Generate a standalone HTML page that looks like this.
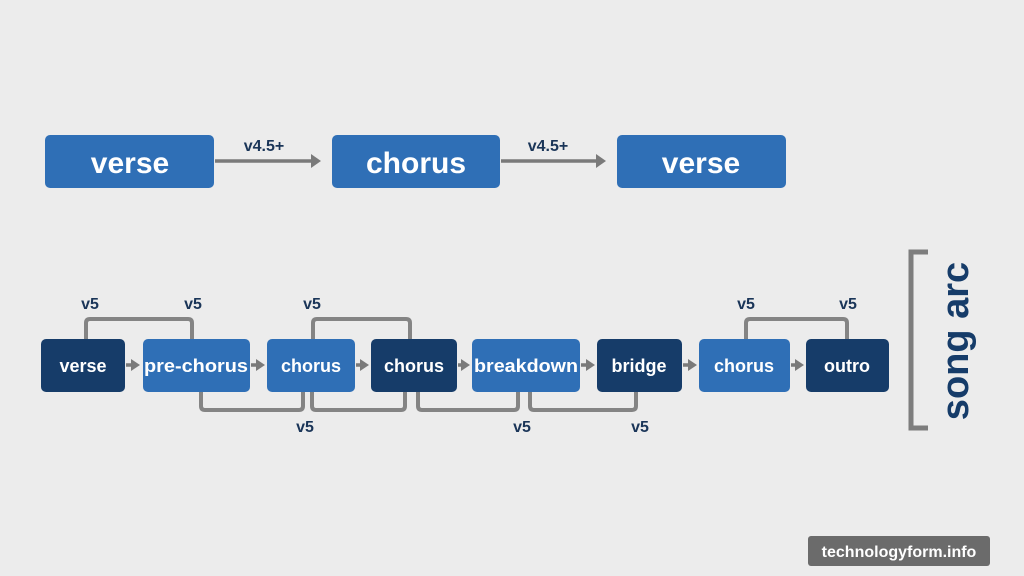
<!DOCTYPE html>
<html><head><style>
body{margin:0;width:1024px;height:576px;background:#ececec;overflow:hidden;font-family:"Liberation Sans",sans-serif;}
</style></head><body>
<svg width="1024" height="576" xmlns="http://www.w3.org/2000/svg" style="position:absolute;left:0;top:0">
<defs><marker id="a" markerWidth="12" markerHeight="14" refX="7" refY="7" orient="auto" markerUnits="userSpaceOnUse"><path d="M0,0 L10,7 L0,14 Z" fill="#7a7a7a"/></marker>
<marker id="b" markerWidth="10" markerHeight="12" refX="6" refY="6" orient="auto" markerUnits="userSpaceOnUse"><path d="M0,0 L9,6 L0,12 Z" fill="#7a7a7a"/></marker></defs>
<g font-weight="bold" text-anchor="middle" font-family="Liberation Sans, sans-serif">
<rect x="45" y="135" width="169" height="53" rx="5" fill="#2f6fb6"/>
<rect x="332" y="135" width="168" height="53" rx="5" fill="#2f6fb6"/>
<rect x="617" y="135" width="169" height="53" rx="5" fill="#2f6fb6"/>
<text x="130" y="173" font-size="30" fill="#fff">verse</text>
<text x="416" y="173" font-size="30" fill="#fff">chorus</text>
<text x="701" y="173" font-size="30" fill="#fff">verse</text>
<line x1="215" y1="161" x2="318" y2="161" stroke="#7a7a7a" stroke-width="3.5" marker-end="url(#a)"/>
<line x1="501" y1="161" x2="603" y2="161" stroke="#7a7a7a" stroke-width="3.5" marker-end="url(#a)"/>
<text x="264" y="151" font-size="16" fill="#1a3558">v4.5+</text>
<text x="548" y="151" font-size="16" fill="#1a3558">v4.5+</text>
<g fill="none" stroke="#848484" stroke-width="4">
<path d="M86,340 V323 Q86,319 90,319 H188 Q192,319 192,323 V340"/>
<path d="M313,340 V323 Q313,319 317,319 H406 Q410,319 410,323 V340"/>
<path d="M746,340 V323 Q746,319 750,319 H843 Q847,319 847,323 V340"/>
<path d="M201,391 V406 Q201,410 205,410 H299 Q303,410 303,406 V391"/>
<path d="M312,391 V406 Q312,410 316,410 H401 Q405,410 405,406 V391"/>
<path d="M418,391 V406 Q418,410 422,410 H514 Q518,410 518,406 V391"/>
<path d="M530,391 V406 Q530,410 534,410 H632 Q636,410 636,406 V391"/>
</g>
<rect x="41" y="339" width="84" height="53" rx="5" fill="#163c69"/>
<rect x="143" y="339" width="107" height="53" rx="5" fill="#2f6fb6"/>
<rect x="267" y="339" width="88" height="53" rx="5" fill="#2f6fb6"/>
<rect x="371" y="339" width="86" height="53" rx="5" fill="#163c69"/>
<rect x="472" y="339" width="108" height="53" rx="5" fill="#2f6fb6"/>
<rect x="597" y="339" width="85" height="53" rx="5" fill="#163c69"/>
<rect x="699" y="339" width="91" height="53" rx="5" fill="#2f6fb6"/>
<rect x="806" y="339" width="83" height="53" rx="5" fill="#163c69"/>
<g font-size="18" fill="#fff">
<text x="83" y="372">verse</text>
<text x="196" y="372" textLength="104" lengthAdjust="spacingAndGlyphs">pre-chorus</text>
<text x="311" y="372">chorus</text>
<text x="414" y="372">chorus</text>
<text x="526" y="372" textLength="104" lengthAdjust="spacingAndGlyphs">breakdown</text>
<text x="639" y="372">bridge</text>
<text x="744" y="372">chorus</text>
<text x="847" y="372">outro</text>
</g>
<g stroke="#7a7a7a" stroke-width="3.5">
<line x1="126" y1="365" x2="137" y2="365" marker-end="url(#b)"/>
<line x1="251" y1="365" x2="262" y2="365" marker-end="url(#b)"/>
<line x1="356" y1="365" x2="366" y2="365" marker-end="url(#b)"/>
<line x1="458" y1="365" x2="467" y2="365" marker-end="url(#b)"/>
<line x1="581" y1="365" x2="592" y2="365" marker-end="url(#b)"/>
<line x1="683" y1="365" x2="694" y2="365" marker-end="url(#b)"/>
<line x1="791" y1="365" x2="801" y2="365" marker-end="url(#b)"/>
</g>
<g font-size="16" fill="#1a3558">
<text x="90" y="309">v5</text><text x="193" y="309">v5</text><text x="312" y="309">v5</text>
<text x="746" y="309">v5</text><text x="848" y="309">v5</text>
<text x="305" y="432">v5</text><text x="522" y="432">v5</text><text x="640" y="432">v5</text>
</g>
<path d="M928,252 H911 V428 H928" fill="none" stroke="#7d7d7d" stroke-width="5"/>
<text transform="translate(968,341) rotate(-90)" font-size="38" fill="#163c69">song arc</text>
</g>
<rect x="808" y="536" width="182" height="30" rx="3" fill="#6b6b6b"/>
<text x="899" y="557" text-anchor="middle" font-size="16" font-weight="bold" fill="#fff" font-family="Liberation Sans, sans-serif">technologyform.info</text>
</svg>
</body></html>
